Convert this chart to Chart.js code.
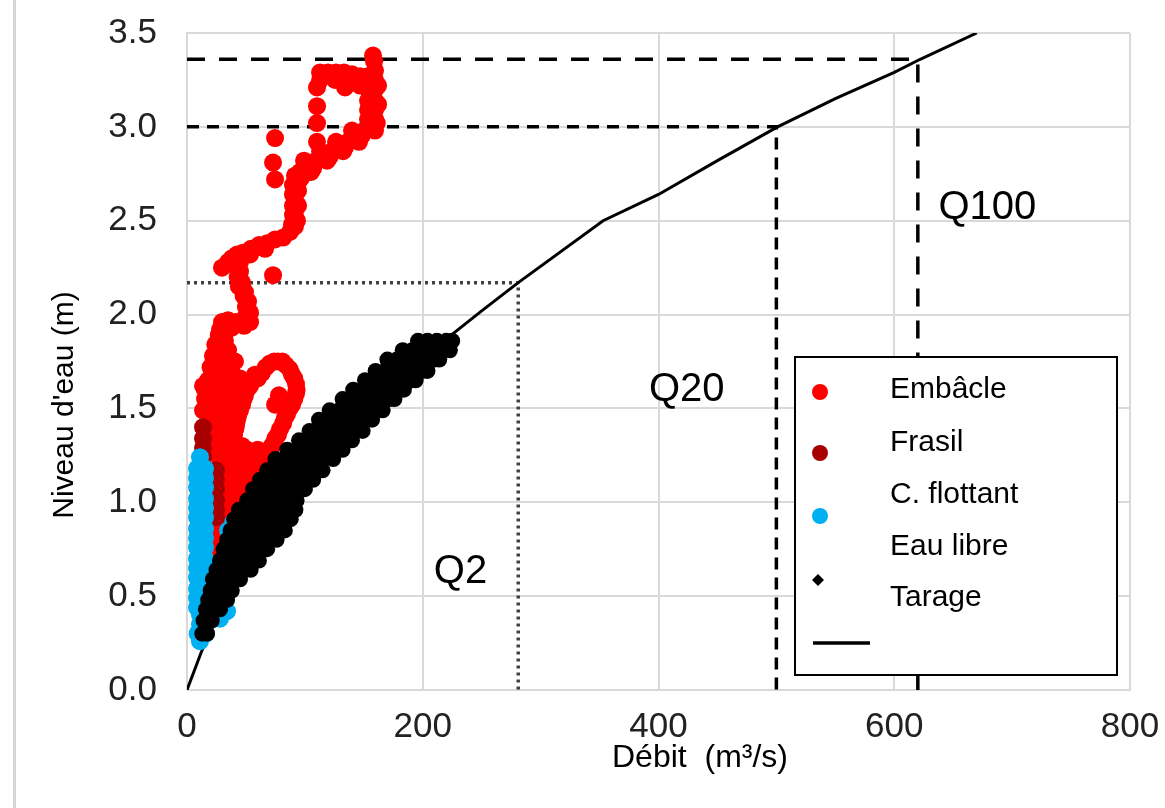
<!DOCTYPE html>
<html>
<head>
<meta charset="utf-8">
<script src="https://cdn.jsdelivr.net/npm/chart.js@4.4.1/dist/chart.umd.min.js"></script>
<style>
  html, body { margin: 0; padding: 0; background: #fff; }
  #wrap { width: 1165px; height: 808px; }
</style>
</head>
<body>
<div id="wrap"><canvas id="chart" width="1165" height="808"></canvas></div>
<script>
// values: [débit m3/s, niveau m]
const embacle = [
  [157.8,3.38],[158.7,3.35],
  [112.9,3.29],[119.6,3.29],[126.4,3.29],[133.2,3.29],[140.0,3.28],[146.8,3.27],[153.6,3.27],
  [116,3.27],[123,3.27],[130,3.27],[137,3.26],[144,3.25],[150,3.24],
  [112.9,3.25],[125.6,3.25],[138.3,3.24],[146.8,3.22],[110.3,3.21],[134.1,3.21],
  [159.5,3.30],[159.5,3.25],[159.5,3.20],[159.5,3.14],[159.5,3.09],[159.5,3.04],
  [153.6,3.20],[153.6,3.14],[153.6,3.09],[155.3,3.04],[162.1,3.12],[162.1,3.22],[156,3.17],[156,3.06],
  [110.3,3.11],[110.3,3.02],[110.3,2.92],[74.7,2.94],[73.0,2.81],[74.7,2.72],
  [157.0,3.01],[150.2,2.98],[143.4,2.95],[136.6,2.92],[129.8,2.90],[123.0,2.87],[116.2,2.84],
  [109.5,2.82],[102.7,2.79],[95.9,2.76],[91.6,2.74],
  [153.6,3.04],[140.0,2.98],[126.4,2.92],[112.9,2.87],[99.3,2.82],
  [159.5,2.98],[145.9,2.92],[132.4,2.87],[118.8,2.82],[105.2,2.76],[95.9,2.72],
  [161,3.02],[148,2.95],[134,2.89],[121,2.84],[107,2.78],[98,2.74],
  [89.9,2.69],[89.9,2.64],[89.9,2.58],[89.9,2.53],[89.1,2.48],[87.4,2.44],[94.2,2.66],[94.2,2.58],[93.3,2.50],
  [91.6,2.61],[91.6,2.55],[91.6,2.47],
  [81.5,2.41],[74.7,2.40],[67.9,2.38],[61.1,2.37],[54.3,2.35],[47.5,2.33],[42.4,2.32],[66.2,2.35],[53.5,2.32],
  [34.8,2.28],[29.7,2.25],[73.0,2.21],
  [45.0,2.28],[45.0,2.23],[46.7,2.17],[49.2,2.12],[51.8,2.07],[53.5,2.01],[53.5,1.96],[48.4,1.94],
  [41.6,1.96],[34.8,1.97],[29.7,1.96],
  [38,2.30],[42,2.25],[43,2.20],[44,2.15],[48,2.10],[50,2.04],[50,1.99],[45,1.95],[38,1.93],[32,1.90],[27,1.89],
  [28.0,1.92],[26.3,1.86],[32.2,1.86],[25.5,1.81],[34.8,1.81],[23.8,1.76],[32.2,1.76],[40.7,1.75],
  [24,1.84],[30,1.84],[22,1.78],[30,1.79],[20,1.72],[30,1.73],[36,1.72],
  [21.2,1.70],[29.7,1.70],[38.2,1.69],[45.0,1.66],[17.8,1.65],[26.3,1.65],[34.8,1.65],
  [63.6,1.69],[70.4,1.74],[77.2,1.75],[84.0,1.73],[89.1,1.68],[92.5,1.63],[92.5,1.58],[89.1,1.52],
  [84.9,1.47],[81.5,1.42],[77.2,1.36],[73.0,1.31],[68.7,1.26],[63.6,1.20],
  [67,1.72],[74,1.75],[81,1.75],[87,1.71],[91,1.66],[93,1.60],[91,1.55],[87,1.50],[83,1.45],
  [79,1.39],[75,1.34],[71,1.29],[66,1.23],[60,1.28],[55,1.25],
  [57.7,1.68],[53.5,1.62],[49.2,1.57],[46.7,1.52],[43.3,1.46],[41.6,1.41],[39.9,1.36],[38.2,1.31],[39.9,1.25],
  [60,1.66],[55.5,1.65],[51,1.60],[48,1.55],[45,1.49],[42.5,1.44],[41,1.39],[39,1.33],[39,1.28],
  [74.7,1.52],[78,1.57],
  [13.6,1.62],[15.3,1.60],[23.8,1.60],[32.2,1.60],[40.7,1.60],[49.2,1.60],
  [19.5,1.57],[28,1.57],[36.5,1.57],[45,1.57],
  [15.3,1.55],[23.8,1.55],[32.2,1.55],[40.7,1.55],
  [18,1.52],[26.3,1.52],[34.8,1.52],
  [13.6,1.49],[22.1,1.49],[30.5,1.49],[39.0,1.49],
  [26.3,1.46],[34.8,1.46],
  [22.1,1.44],[30.5,1.44],[39.0,1.44],
  [28,1.41],[36.5,1.41],
  [23.8,1.38],[32.2,1.38],[28,1.35],[36.5,1.35],[23.8,1.33],[32.2,1.33],
  [29.7,1.30],[38.2,1.30],[46.7,1.30],
  [25.5,1.28],[33.9,1.28],[50.9,1.28],
  [28.0,1.23],[36.5,1.23],[45.0,1.23],[53.5,1.23],
  [32.2,1.20],[40.7,1.20],[49.2,1.20],[57.7,1.20],
  [29.7,1.17],[38.2,1.17],[46.7,1.17],[55.2,1.17],[63.6,1.17],
  [32.2,1.14],[40.7,1.14],[49.2,1.14],[58,1.14],
  [28.0,1.12],[36.5,1.12],[45.0,1.12],[53.5,1.12],
  [32.2,1.09],[40.7,1.09],[49,1.09],
  [28.0,1.07],[36.5,1.07],[45.0,1.07],
  [32.2,1.04],[40.7,1.04],
  [28.0,1.01],[36.5,1.01],[45.0,1.01],
  [32.2,0.99],[38,0.99],
  [28.0,0.96],[34.8,0.96],[41.6,0.96],
  [31,0.93],[28.0,0.91],[34.8,0.91],[31,0.88],[28.0,0.85],[33.9,0.85],
  [27,0.83],[28.0,0.80],[23,0.78],[26.3,0.75],[22,0.72],[25.5,0.70]
];

const frasil = [
  [13.6,1.40],[13.6,1.34],[13.6,1.29],[13.6,1.24],[14.4,1.19],
  [24.6,1.17],[24.6,1.12],[24.6,1.07],[24.6,1.01],[24.6,0.96],[24.6,0.92]
];

const flottant = [
  [11.0,1.24],
  [8.5,1.18],[15.3,1.18],[8.5,1.13],[15.3,1.13],[8.5,1.08],[15.3,1.08],[8.5,1.02],[15.3,1.02],
  [8.5,0.97],[15.3,0.97],[8.5,0.92],[15.3,0.92],[8.5,0.86],[15.3,0.86],[8.5,0.81],[15.3,0.81],
  [8.5,0.76],[15.3,0.76],[8.5,0.70],[15.3,0.70],[8.5,0.65],[15.3,0.65],[8.5,0.60],[15.3,0.60],
  [8.5,0.54],[15.3,0.54],[8.5,0.49],[15.3,0.49],[8.5,0.44],[15.3,0.44],
  [11.0,0.40],[11.0,0.35],[9.0,0.30],[16.1,0.30],[11.0,0.26],
  [32.2,0.48],[33.9,0.42],[28.0,0.38],[22.0,0.42],
  [34.8,0.85],[39.0,0.89]
];

// eau libre: one row of débits for each niveau
const eauLibreH = [0.30,0.37,0.43,0.48,0.53,0.59,0.64,0.69,0.75,0.80,0.85,0.91,0.96,1.01,1.07,
  1.12,1.17,1.23,1.28,1.33,1.38,1.44,1.49,1.55,1.60,1.65,1.70,1.76,1.81,1.86];
const eauLibreQ = [
  [13,17],[14,21],[16,23,28],[18,26,34],[20,29,38],[22,30,38,45],[25,33,41,49,54],
  [28,36,44,52,61],[31,39,47,55,63,68],[34,42,50,58,66,76],[37,45,53,61,69,77,83],
  [40,48,56,64,72,80,88],[44,52,60,68,76,84,92],[51,59,67,75,83,93],
  [56,64,72,80,88,96,100],[62,70,78,86,94,102,107],[68,76,84,92,100,108,115],
  [75,83,91,99,107,115,124],[85,93,101,109,117,125,132],[95,103,111,119,127,135,140],
  [104,112,120,128,136,144,149],[112,120,128,136,144,152,157],[121,129,137,145,153,161,166],
  [132,140,148,156,164,172,176],[141,149,157,165,173,181,184],[151,159,167,175,183,191,194],
  [160,168,176,184,192,200,204],[170,178,186,194,202,210,214],[183,191,199,207,215,223],
  [196,204,212,220,225]
];

// courbe de tarage
const tarageQ = [0, 12, 25, 50, 100, 150, 200, 226, 250, 281, 353, 400, 450, 501, 550, 600, 622, 670];
const tarageH = [0, 0.20, 0.38, 0.72, 1.15, 1.48, 1.76, 1.90, 2.02, 2.17, 2.50, 2.64, 2.82, 3.00, 3.15, 3.29, 3.36, 3.50];

// return-period guide lines
const q2Line = [[0,2.17],[281,2.17],[281,0]];
const q20Line = [[0,3.0],[500,3.0],[500,0]];
const q100Line = [[0,3.36],[620,3.36],[620,0]];

const qLabels = ["Q2", "Q20", "Q100"];
const qLabelQ = [232, 424, 679];
const qLabelH = [0.63, 1.60, 2.57];

const legendLabels = ["Embâcle", "Frasil", "C. flottant", "Eau libre", "Tarage"];
const xTitle = "Débit  (m³/s)";
const yTitle = "Niveau d'eau (m)";

const FONT = '"Liberation Sans", Arial, sans-serif';

const pts = arr => arr.map(p => ({ x: p[0], y: p[1] }));
const eauLibre = [];
eauLibreH.forEach((h, i) => eauLibreQ[i].forEach(q => eauLibre.push({ x: q, y: h })));
const tarage = tarageQ.map((q, i) => ({ x: q, y: tarageH[i] }));

function dotSet(label, data, color, r, order) {
  return { label, data, backgroundColor: color, borderColor: color, borderWidth: 0,
    pointRadius: r, pointHoverRadius: r, order };
}
function guide(data, dash, color) {
  return { label: "", data: pts(data), showLine: true, borderColor: color, borderWidth: 3.5,
    borderDash: dash, pointRadius: 0, fill: false, order: 6 };
}

const overlay = {
  id: "overlay",
  beforeDraw(chart) {
    const ctx = chart.ctx;
    ctx.save();
    ctx.fillStyle = "#fff";
    ctx.fillRect(0, 0, chart.width, chart.height);
    ctx.strokeStyle = "#d6d6d6";
    ctx.lineWidth = 3;
    ctx.beginPath(); ctx.moveTo(14.5, 0); ctx.lineTo(14.5, chart.height); ctx.stroke();
    ctx.restore();
  },
  afterDraw(chart) {
    const { ctx, scales: { x, y }, chartArea } = chart;
    ctx.save();
    ctx.fillStyle = "#000";
    ctx.textAlign = "center";
    ctx.textBaseline = "middle";
    ctx.font = "40px " + FONT;
    qLabels.forEach((t, i) => ctx.fillText(t, x.getPixelForValue(qLabelQ[i]), y.getPixelForValue(qLabelH[i])));

    // axis titles, off-centre as in the original
    ctx.font = "32px " + FONT;
    ctx.fillText(xTitle, chartArea.left + 513, chartArea.bottom + 68);
    ctx.save();
    ctx.translate(65, chartArea.top + 372);
    ctx.rotate(-Math.PI / 2);
    ctx.font = "30px " + FONT;
    ctx.fillText(yTitle, 0, 0);
    ctx.restore();

    // legend box
    const L = chartArea.left + 608, T = chartArea.top + 324, W = 322, H = 318;
    ctx.fillStyle = "#fff";
    ctx.fillRect(L, T, W, H);
    ctx.strokeStyle = "#000";
    ctx.lineWidth = 2;
    ctx.strokeRect(L, T, W, H);

    const ds = chart.data.datasets;
    const dotY = [35, 96, 159];
    [0, 1, 2].forEach(i => {
      ctx.fillStyle = ds[i].backgroundColor;
      ctx.beginPath(); ctx.arc(L + 25, T + dotY[i], 8, 0, Math.PI * 2); ctx.fill();
    });
    // eau libre marker
    ctx.fillStyle = "#000";
    ctx.beginPath();
    ctx.moveTo(L + 23, T + 217); ctx.lineTo(L + 29, T + 223); ctx.lineTo(L + 23, T + 229); ctx.lineTo(L + 17, T + 223);
    ctx.closePath(); ctx.fill();
    // tarage line
    ctx.strokeStyle = "#000";
    ctx.lineWidth = 3.5;
    ctx.beginPath(); ctx.moveTo(L + 18, T + 286); ctx.lineTo(L + 75, T + 286); ctx.stroke();

    ctx.fillStyle = "#000";
    ctx.textAlign = "left";
    ctx.font = "30px " + FONT;
    const textY = [33, 86, 138, 190, 241];
    legendLabels.forEach((t, i) => ctx.fillText(t, L + 95, T + textY[i]));
    ctx.restore();
  }
};

new Chart(document.getElementById("chart"), {
  type: "scatter",
  data: {
    datasets: [
      dotSet("Embâcle", pts(embacle), "#ff0000", 9, 3),
      dotSet("Frasil", pts(frasil), "#a80000", 9, 2),
      dotSet("C. flottant", pts(flottant), "#00b0f0", 9, 1),
      dotSet("Eau libre", eauLibre, "#000000", 8, 0),
      { label: "Tarage", data: tarage, showLine: true, borderColor: "#000", borderWidth: 3,
        pointRadius: 0, fill: false, tension: 0, order: 5 },
      guide(q2Line, [3, 4], "#404040"),
      guide(q20Line, [12, 8], "#000"),
      guide(q100Line, [18, 14], "#000")
    ]
  },
  options: {
    responsive: false,
    animation: false,
    events: [],
    layout: { padding: { top: 33, right: 35, left: 0, bottom: 0 } },
    plugins: { legend: { display: false }, tooltip: { enabled: false } },
    scales: {
      x: {
        type: "linear", min: 0, max: 800,
        ticks: { stepSize: 200, color: "#222", padding: 0, font: { family: FONT, size: 35 } },
        grid: { color: "#d9d9d9", lineWidth: 2, drawTicks: true, tickLength: 16, tickColor: "rgba(0,0,0,0)" },
        border: { color: "#d9d9d9", width: 2 },
        afterFit(scale) { scale.height = 118; }
      },
      y: {
        type: "linear", min: 0, max: 3.5,
        ticks: { stepSize: 0.5, color: "#222", padding: 0, font: { family: FONT, size: 35 },
          callback: v => v.toFixed(1) },
        grid: { color: "#d9d9d9", lineWidth: 2, drawTicks: true, tickLength: 30, tickColor: "rgba(0,0,0,0)" },
        border: { color: "#d9d9d9", width: 2 },
        afterFit(scale) { scale.width = 187; }
      }
    }
  },
  plugins: [overlay]
});
</script>
</body>
</html>
